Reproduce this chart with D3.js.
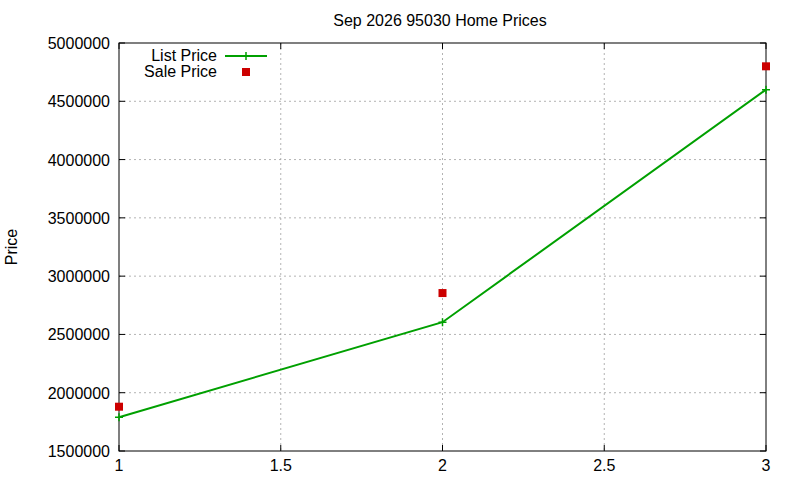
<!DOCTYPE html>
<html><head><meta charset="utf-8">
<script src="https://cdn.jsdelivr.net/npm/d3@7"></script>
<style>body{margin:0;background:#fff}text{font-family:"Liberation Sans",Arial,sans-serif;font-size:16px}</style>
</head><body><svg id="c" width="800" height="480"></svg>
<script>
const xs=[1,2,3];
const listPrice=[1790000,2605000,4600000];
const salePrice=[1880000,2855000,4800000];
const xTicks=[1,1.5,2,2.5,3];
const yTicks=[1500000,2000000,2500000,3000000,3500000,4000000,4500000,5000000];
const svg=d3.select("#c");
const L=119,R=766,T=43,B=451;
const x=d3.scaleLinear().domain([1,3]).range([L,R]);
const y=d3.scaleLinear().domain([1500000,5000000]).range([B,T]);
const g=svg.append("g");
xTicks.forEach(t=>{if(t>1&&t<3)g.append("line").attr("x1",x(t)).attr("x2",x(t)).attr("y1",T).attr("y2",B).attr("stroke","#a0a0a0").attr("stroke-dasharray","2,3").attr("stroke-width",0.8);});
yTicks.forEach(t=>{if(t>1500000&&t<5000000)g.append("line").attr("x1",L).attr("x2",R).attr("y1",y(t)).attr("y2",y(t)).attr("stroke","#a0a0a0").attr("stroke-dasharray","2,3").attr("stroke-width",0.8);});
xTicks.forEach(t=>{
 g.append("line").attr("x1",x(t)).attr("x2",x(t)).attr("y1",B).attr("y2",B-6).attr("stroke","#000");
 g.append("line").attr("x1",x(t)).attr("x2",x(t)).attr("y1",T).attr("y2",T+6).attr("stroke","#000");
 g.append("text").attr("x",x(t)).attr("y",B+20).attr("text-anchor","middle").text(t);
});
yTicks.forEach(t=>{
 g.append("line").attr("x1",L).attr("x2",L+6).attr("y1",y(t)).attr("y2",y(t)).attr("stroke","#000");
 g.append("line").attr("x1",R).attr("x2",R-6).attr("y1",y(t)).attr("y2",y(t)).attr("stroke","#000");
 g.append("text").attr("x",L-9).attr("y",y(t)+6).attr("text-anchor","end").text(t);
});
g.append("rect").attr("x",L).attr("y",T).attr("width",R-L).attr("height",B-T).attr("fill","none").attr("stroke","#000");
const line=d3.line().x((d,i)=>x(xs[i])).y(d=>y(d));
g.append("path").attr("d",line(listPrice)).attr("fill","none").attr("stroke","#00a000").attr("stroke-width",2);
function plus(cx,cy){g.append("path").attr("d",`M${cx-4},${cy}H${cx+4}M${cx},${cy-4}V${cy+4}`).attr("stroke","#00a000").attr("stroke-width",1.5);}
listPrice.forEach((d,i)=>plus(x(xs[i]),y(d)));
salePrice.forEach((d,i)=>g.append("rect").attr("x",x(xs[i])-4).attr("y",y(d)-4).attr("width",8).attr("height",8).attr("fill","#cc0000"));
g.append("text").attr("x",217).attr("y",61).attr("text-anchor","end").text("List Price");
g.append("line").attr("x1",225).attr("x2",267).attr("y1",56).attr("y2",56).attr("stroke","#00a000").attr("stroke-width",2);
plus(246,56);
g.append("text").attr("x",217).attr("y",77).attr("text-anchor","end").text("Sale Price");
g.append("rect").attr("x",242).attr("y",68).attr("width",8).attr("height",8).attr("fill","#cc0000");
svg.append("text").attr("x",440).attr("y",26).attr("text-anchor","middle").text("Sep 2026 95030 Home Prices");
svg.append("text").attr("transform","translate(17,247) rotate(-90)").attr("text-anchor","middle").text("Price");
</script></body></html>
